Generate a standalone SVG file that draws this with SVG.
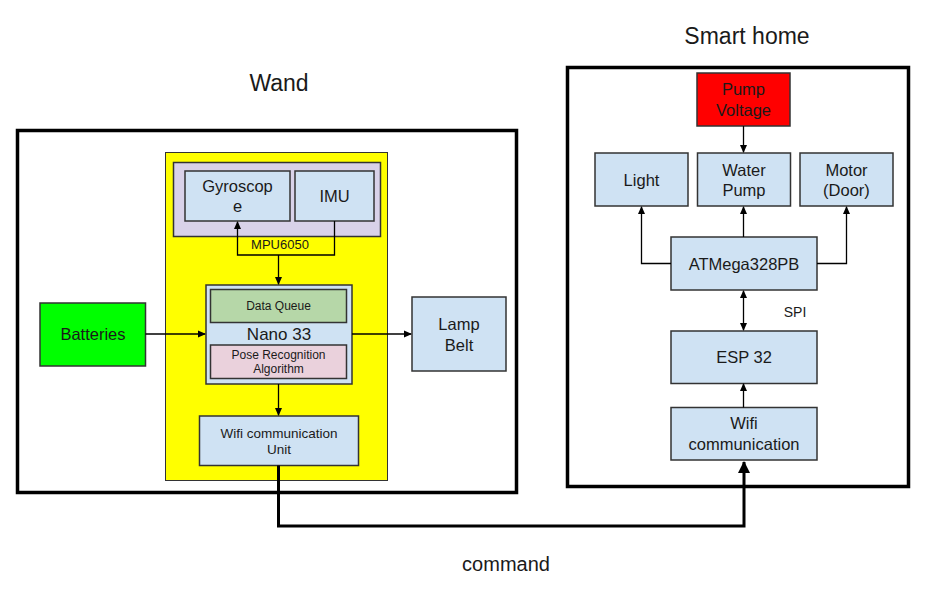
<svg xmlns="http://www.w3.org/2000/svg" width="950" height="604" viewBox="0 0 950 604">
<defs>
<style>
text{font-family:"Liberation Sans",Arial,sans-serif;fill:#1a1a1a;text-anchor:middle}
.box{fill:#cfe2f3;stroke:#333;stroke-width:1.5}
.frame{fill:#fff;stroke:#000;stroke-width:3.5}
.c{fill:none;stroke:#000;stroke-width:1.3}
.t{font-size:16.5px}
.s{font-size:12px}
</style>
<marker id="a" markerWidth="8" markerHeight="8" refX="7" refY="4" orient="auto" markerUnits="userSpaceOnUse"><path d="M0,0.5 L8,4 L0,7.5 Z" fill="#000"/></marker>
<marker id="as" markerWidth="8" markerHeight="8" refX="7" refY="4" orient="auto-start-reverse" markerUnits="userSpaceOnUse"><path d="M0,0.5 L8,4 L0,7.5 Z" fill="#000"/></marker>
<marker id="ab" markerWidth="12" markerHeight="12" refX="11" refY="6" orient="auto" markerUnits="userSpaceOnUse"><path d="M0,0 L12,6 L0,12 Z" fill="#000"/></marker>
</defs>
<rect width="950" height="604" fill="#fff"/>
<g id="wand">
<rect class="frame" x="17.5" y="130.5" width="499" height="362"/>
<text x="279" y="91" style="font-size:23px">Wand</text>
</g>
<g id="smarthome">
<rect class="frame" x="567.5" y="67.5" width="341" height="419"/>
<text x="747" y="44" style="font-size:23px">Smart home</text>
</g>
<g id="board"><rect x="165.5" y="152.5" width="222" height="328" fill="#ffff00" stroke="#333" stroke-width="1"/></g>
<g id="mpu6050"><rect x="173.5" y="162.5" width="207" height="74" fill="#d9d2e9" stroke="#333" stroke-width="1.5"/></g>
<g id="gyroscope"><rect class="box" x="185" y="171" width="105" height="50"/><text class="t" x="237.5" y="192">Gyroscop</text><text class="t" x="237.5" y="212">e</text></g>
<g id="imu"><rect class="box" x="295" y="171" width="79" height="50"/><text class="t" x="334.5" y="202">IMU</text></g>
<g id="nano33"><rect class="box" x="206" y="285" width="146" height="99"/><text x="279" y="340" style="font-size:17px">Nano 33</text></g>
<g id="dataqueue"><rect x="210.5" y="289.5" width="136" height="33" fill="#b6d7a8" stroke="#333" stroke-width="1.5"/><text class="s" x="278.5" y="310">Data Queue</text></g>
<g id="pose"><rect x="210.5" y="345" width="136" height="33.5" fill="#ead1dc" stroke="#333" stroke-width="1.5"/><text class="s" x="278.5" y="359">Pose Recognition</text><text class="s" x="278.5" y="373">Algorithm</text></g>
<g id="wifiunit"><rect class="box" x="199.5" y="416" width="159" height="49.5"/><text x="279" y="438" style="font-size:13.5px">Wifi communication</text><text x="279" y="454" style="font-size:13.5px">Unit</text></g>
<g id="batteries"><rect x="40" y="303" width="105.5" height="63" fill="#00ff00" stroke="#333" stroke-width="1.5"/><text class="t" x="93" y="340">Batteries</text></g>
<g id="lampbelt"><rect class="box" x="412" y="297" width="94" height="74"/><text class="t" x="459" y="330">Lamp</text><text class="t" x="459" y="351">Belt</text></g>
<g id="pumpvoltage"><rect x="697" y="73" width="93" height="53" fill="#ff0000" stroke="#333" stroke-width="1.5"/><text class="t" x="743.5" y="95">Pump</text><text class="t" x="743.5" y="116">Voltage</text></g>
<g id="light"><rect class="box" x="595" y="153" width="93" height="53"/><text class="t" x="641.5" y="186">Light</text></g>
<g id="waterpump"><rect class="box" x="697.5" y="153" width="93" height="53"/><text class="t" x="744" y="176">Water</text><text class="t" x="744" y="196">Pump</text></g>
<g id="motor"><rect class="box" x="800" y="153" width="93" height="53"/><text class="t" x="846.5" y="176">Motor</text><text class="t" x="846.5" y="196">(Door)</text></g>
<g id="atmega"><rect class="box" x="671" y="237" width="146" height="53"/><text class="t" x="744" y="270">ATMega328PB</text></g>
<g id="esp32"><rect class="box" x="671" y="331" width="146" height="52.5"/><text class="t" x="744" y="363">ESP 32</text></g>
<g id="wifi"><rect class="box" x="671" y="407.5" width="146" height="52.5"/><text class="t" x="744" y="429">Wifi</text><text class="t" x="744" y="450">communication</text></g>
<g id="connectors">
<path class="c" d="M334.5,221 V255 H237.5 V222" marker-end="url(#a)"/>
<text x="280" y="249" style="font-size:13px">MPU6050</text>
<path class="c" d="M278.5,255 V284" marker-end="url(#a)"/>
<path class="c" d="M145.5,334 H205" marker-end="url(#a)"/>
<path class="c" d="M352,334 H411" marker-end="url(#a)"/>
<path class="c" d="M278.5,384 V415" marker-end="url(#a)"/>
<path class="c" d="M743.5,126 V152" marker-end="url(#a)"/>
<path class="c" d="M671,263.5 H641.5 V207" marker-end="url(#a)"/>
<path class="c" d="M743.5,237 V207" marker-end="url(#a)"/>
<path class="c" d="M817,263.5 H846.5 V207" marker-end="url(#a)"/>
<path class="c" d="M743.5,291 V330" marker-start="url(#as)" marker-end="url(#a)"/>
<text x="795" y="317" style="font-size:14px">SPI</text>
<path class="c" d="M743.5,407.5 V384" marker-end="url(#a)"/>
<path fill="none" stroke="#000" stroke-width="3" d="M278.5,465.5 V526 H744 V462" marker-end="url(#ab)"/>
<text x="506" y="571" style="font-size:20px">command</text>
</g>
</svg>
